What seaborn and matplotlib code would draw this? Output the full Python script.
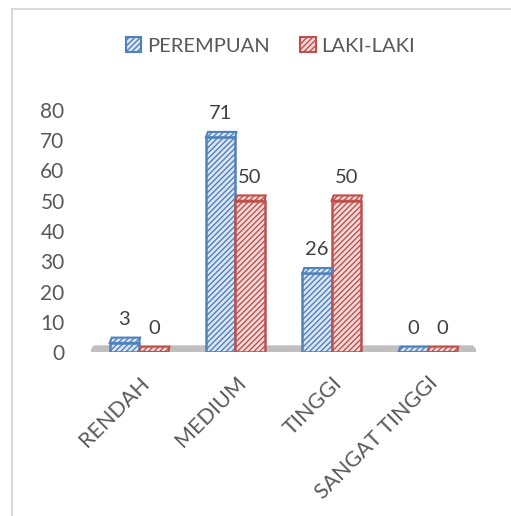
import matplotlib
matplotlib.use("Agg")
import matplotlib.pyplot as plt
import seaborn as sns
import pandas as pd
from matplotlib.patches import Polygon, Patch
from matplotlib.lines import Line2D

categories = ["RENDAH", "MEDIUM", "TINGGI", "SANGAT TINGGI"]
series_names = ["PEREMPUAN", "LAKI-LAKI"]
perempuan = [3, 71, 26, 0]
laki_laki = [0, 50, 50, 0]
yticks = [0, 10, 20, 30, 40, 50, 60, 70, 80]

df = pd.DataFrame({
    "kategori": categories * 2,
    "seri": [series_names[0]] * 4 + [series_names[1]] * 4,
    "nilai": perempuan + laki_laki,
})

edge_colors = {"PEREMPUAN": "#4f81bd", "LAKI-LAKI": "#c0504d"}
face_colors = {"PEREMPUAN": "#dce6f2", "LAKI-LAKI": "#f2dcdb"}
HATCH = "//////"

sns.set_theme(style="white")
plt.rcParams["font.family"] = ["Lato", "DejaVu Sans"]
plt.rcParams["hatch.linewidth"] = 1.0

fig = plt.figure(figsize=(5.11, 5.16), dpi=100)
ax = fig.add_axes([91 / 511, 1 - 352 / 516, (476 - 91) / 511, (352 - 110) / 516])

sns.barplot(data=df, x="kategori", y="nilai", hue="seri", order=categories,
            hue_order=series_names, palette=face_colors, width=0.61,
            legend=False, ax=ax, saturation=1)

depth = 2.2
# floor
floor = Polygon([(-0.52, 0), (3.52, 0), (3.47, depth), (-0.47, depth)],
                closed=True, facecolor="#bfbfbf", edgecolor="none", zorder=0.5)
ax.add_patch(floor)

for container, name in zip(ax.containers, series_names):
    vals = perempuan if name == "PEREMPUAN" else laki_laki
    for bar, v in zip(container, vals):
        bar.set_facecolor(face_colors[name])
        bar.set_edgecolor(edge_colors[name])
        bar.set_hatch(HATCH)
        bar.set_linewidth(1.8)
        bar.set_zorder(2)
        x0 = bar.get_x()
        w = bar.get_width()
        top = bar.get_height()
        cap = Polygon([(x0, top), (x0 + w, top), (x0 + w + 0.01, top + depth * 0.8),
                       (x0 + 0.02, top + depth * 0.8)], closed=True,
                      facecolor=face_colors[name], edgecolor=edge_colors[name],
                      hatch=HATCH, linewidth=1.5, zorder=2.5)
        ax.add_patch(cap)
        ax.annotate(f"{v}", (x0 + w / 2, top), xytext=(0, 13), textcoords="offset points",
                    ha="center", va="baseline", fontsize=14.5, color="#404040")

ax.set_xlim(-0.5, 3.5)
ax.set_ylim(0, 80)
ax.set_yticks(yticks)
ax.set_yticklabels([str(t) for t in yticks])
ax.set_xlabel("")
ax.set_ylabel("")
for s in ax.spines.values():
    s.set_visible(False)
ax.tick_params(axis="y", length=0, pad=19, labelsize=15, labelcolor="#595959")
ax.tick_params(axis="x", length=0, pad=15, labelsize=15.5, labelcolor="#595959")
for lab in ax.get_xticklabels():
    lab.set_rotation(45)
    lab.set_ha("right")
    lab.set_va("top")
    lab.set_rotation_mode("anchor")
ax.patch.set_alpha(0)

handles = [Patch(facecolor=face_colors[n], edgecolor=edge_colors[n], hatch=HATCH,
                 linewidth=1.5, label=n) for n in series_names]
fig.legend(handles=handles, loc="center", bbox_to_anchor=(0.53, 1 - 46 / 516),
           ncol=2, frameon=False, fontsize=14.5, handlelength=0.75, handleheight=0.75,
           handletextpad=0.3, columnspacing=1.5, labelcolor="#595959")

# chart frame
fig.add_artist(Line2D([11.5 / 511, 1.0], [1 - 8.5 / 516, 1 - 8.5 / 516],
                      transform=fig.transFigure, color="#d9d9d9", linewidth=1.5))
fig.add_artist(Line2D([11.5 / 511, 11.5 / 511], [0, 1 - 8.5 / 516],
                      transform=fig.transFigure, color="#d9d9d9", linewidth=1.5))

fig.savefig("out.png", dpi=100, facecolor="white")
